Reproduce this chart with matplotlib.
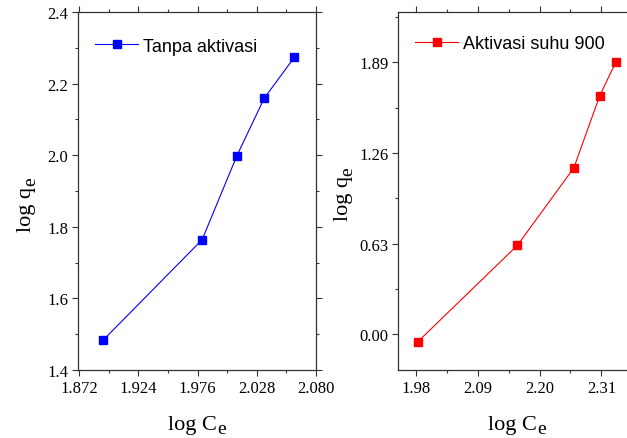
import numpy as np
import matplotlib.pyplot as plt
from matplotlib.ticker import MultipleLocator, FormatStrFormatter

plt.rcParams['font.family'] = 'Liberation Serif'

# data
x_tanpa = [1.8933, 1.9800, 2.0106, 2.0345, 2.0609]
y_tanpa = [1.484, 1.764, 1.999, 2.159, 2.273]
x_900 = [1.9836, 2.1606, 2.2610, 2.3070, 2.3356]
y_900 = [-0.051, 0.618, 1.156, 1.657, 1.890]

xticks_left = [1.872, 1.924, 1.976, 2.028, 2.080]
yticks_left = [1.4, 1.6, 1.8, 2.0, 2.2, 2.4]
xticks_right = [1.98, 2.09, 2.20, 2.31]
yticks_right = [0.00, 0.63, 1.26, 1.89]

fig = plt.figure(figsize=(6.27, 4.39), dpi=100)
ax1 = fig.add_axes([78 / 627, 68 / 439, 238 / 627, 358 / 439])
ax2 = fig.add_axes([398.3 / 627, 68 / 439, 238 / 627, 358 / 439])


def style(ax, xt, yt, xminor, yminor, xfmt, yfmt):
    ax.set_xticks(xt)
    ax.set_yticks(yt)
    ax.xaxis.set_minor_locator(MultipleLocator(xminor))
    ax.yaxis.set_minor_locator(MultipleLocator(yminor))
    ax.xaxis.set_major_formatter(FormatStrFormatter(xfmt))
    ax.yaxis.set_major_formatter(FormatStrFormatter(yfmt))
    ax.tick_params(which='both', direction='out', top=True, right=True,
                   color='#333333', width=0.8)
    ax.tick_params(which='major', length=4, labelsize=12, pad=3)
    ax.tick_params(which='minor', length=2.5)
    for s in ax.spines.values():
        s.set_color('#333333')
        s.set_linewidth(0.9)


def labels(ax, xpos, ypos):
    # label sumbu ala Origin: subscript besar dan turun
    t = ax.text(xpos[0], xpos[1], 'log C', transform=ax.transAxes,
                ha='left', va='top', fontsize=16)
    ax.annotate('e', xy=(1, 0), xycoords=t, xytext=(0.5, -2),
                textcoords='offset points', ha='left', va='bottom', fontsize=14)
    t = ax.text(ypos[0], ypos[1], 'log q', transform=ax.transAxes,
                ha='right', va='bottom', rotation=90, fontsize=16)
    ax.annotate('e', xy=(1, 1), xycoords=t, xytext=(2.5, 0.5),
                textcoords='offset points', ha='right', va='bottom',
                rotation=90, fontsize=14)


ax1.plot(x_tanpa, y_tanpa, color='#0000FF', marker='s', markersize=6, lw=0.8,
         label='Tanpa aktivasi')
ax1.set_xlim(1.871, 2.080)
ax1.set_ylim(1.4, 2.4)
style(ax1, xticks_left, yticks_left, 0.026, 0.1, '%.3f', '%.1f')
labels(ax1, (0.378, -0.126), (-0.176, 0.388))
ax1.legend(loc='center left', bbox_to_anchor=(0.071, 0.905), frameon=False,
           borderpad=0, borderaxespad=0, handlelength=2.4, handletextpad=0.25,
           prop={'family': 'Liberation Sans', 'size': 13})

ax2.plot(x_900, y_900, color='#FF0000', marker='s', markersize=6, lw=0.8,
         label='Aktivasi suhu 900')
ax2.set_xlim(1.949, 2.372)
ax2.set_ylim(-0.247, 2.238)
style(ax2, xticks_right, yticks_right, 0.055, 0.315, '%.2f', '%.2f')
labels(ax2, (0.377, -0.126), (-0.19, 0.418))
ax2.legend(loc='center left', bbox_to_anchor=(0.070, 0.911), frameon=False,
           borderpad=0, borderaxespad=0, handlelength=2.4, handletextpad=0.25,
           prop={'family': 'Liberation Sans', 'size': 13})

fig.savefig('out.png', dpi=100)
